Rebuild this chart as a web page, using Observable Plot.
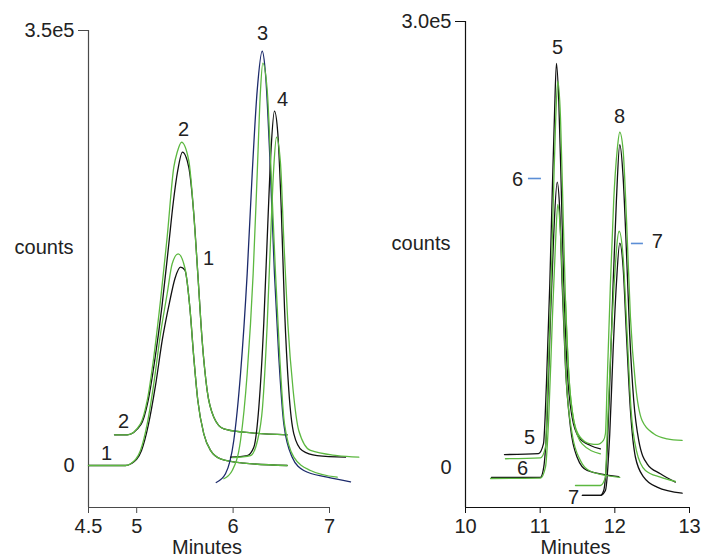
<!DOCTYPE html>
<html>
<head>
<meta charset="utf-8">
<script src="https://cdn.jsdelivr.net/npm/d3@7"></script>
<script src="https://cdn.jsdelivr.net/npm/@observablehq/plot@0.6"></script>
<style>
  html, body { margin: 0; padding: 0; background: #fff; }
  #wrap { display: flex; width: 704px; height: 559px; }
  svg { overflow: visible; }
</style>
</head>
<body>
<div id="wrap"></div>
<script>
// ---------- Left panel data: [minutes, counts] ----------
const leftXTicks = [4.5, 5, 6, 7];
const leftYTop = 350000;
const leftYTopLabel = "3.5e5";

const run1Black = [[4.5,0],[4.884,0],[4.946,1600],[5.050,12100],[5.122,33000],[5.195,64400],[5.268,102200],[5.340,131100],[5.397,150500],[5.454,159600],[5.500,157300],[5.551,127400],[5.592,87100],[5.634,52300],[5.696,25500],[5.766,12100],[5.869,5400],[6.111,1900],[6.561,0]];
const run1Green = [[4.5,0],[4.884,0],[4.936,1400],[5.039,12100],[5.109,33500],[5.177,65700],[5.247,106000],[5.316,138200],[5.368,162300],[5.430,170300],[5.500,158900],[5.551,127400],[5.592,87100],[5.634,52300],[5.696,25500],[5.766,12100],[5.869,5400],[6.111,1900],[6.561,0]];
const run2Black = [[4.770,24700],[4.901,24700],[5.045,33000],[5.117,51500],[5.190,86100],[5.262,128000],[5.330,176000],[5.380,212000],[5.425,237000],[5.475,252100],[5.540,240000],[5.592,202500],[5.634,154200],[5.679,100600],[5.731,60300],[5.800,38900],[5.904,29500],[6.111,26800],[6.561,24700]];
const run2Green = [[4.770,24700],[4.901,24700],[5.039,33550],[5.109,52300],[5.177,87100],[5.247,132800],[5.316,183700],[5.385,240000],[5.420,252000],[5.465,260100],[5.540,245400],[5.592,202500],[5.634,154200],[5.679,100600],[5.731,60300],[5.800,38900],[5.904,29500],[6.111,26800],[6.561,24700]];
const run3Blue = [[5.825,-13700],[5.921,-6700],[6.007,20100],[6.077,73800],[6.146,154200],[6.198,234700],[6.250,301700],[6.302,333300],[6.336,315200],[6.381,248100],[6.429,154200],[6.474,87100],[6.526,33500],[6.613,6700],[6.733,-4000],[6.976,-9400],[7.218,-13100]];
const run3Green = [[5.904,-10700],[5.991,-4000],[6.077,20100],[6.146,73800],[6.208,154200],[6.250,234700],[6.284,301700],[6.308,323700],[6.354,301700],[6.395,234700],[6.440,154200],[6.484,87100],[6.533,33500],[6.630,6700],[6.803,-4000],[7.080,-9400]];
const run4Black = [[5.973,6700],[6.146,8000],[6.215,14700],[6.267,46900],[6.318,114000],[6.360,194500],[6.395,256100],[6.429,285100],[6.464,266900],[6.499,207800],[6.533,127400],[6.578,60300],[6.630,25500],[6.717,12100],[6.872,8000],[7.166,6700]];
const run4Green = [[5.994,6400],[6.181,8000],[6.253,20100],[6.305,46700],[6.354,114000],[6.395,194500],[6.422,240000],[6.450,264100],[6.492,242700],[6.526,181000],[6.568,114000],[6.623,60300],[6.681,28200],[6.803,12100],[7.080,8000],[7.304,6700]];

const leftLabelText = ["3", "4", "2", "1", "2", "1"];
const leftLabelX = [6.305, 6.512, 5.485, 5.745, 4.863, 4.687];
const leftLabelY = [347600, 294500, 270300, 166600, 35400, 9700];

// ---------- Right panel data ----------
const rightXTicks = [10, 11, 12, 13];
const rightYTop = 300000;
const rightYTopLabel = "3.0e5";

const run5Black = [[10.522,8700],[10.977,9400],[11.044,15900],[11.084,56300],[11.129,123600],[11.165,190800],[11.191,235600],[11.218,271900],[11.249,246800],[11.281,190800],[11.316,123600],[11.361,67500],[11.428,33800],[11.517,20400],[11.673,14800],[11.807,12600]];
const run5Green = [[10.535,5900],[11.004,6500],[11.071,13500],[11.102,56300],[11.147,123600],[11.182,190800],[11.209,235600],[11.236,259800],[11.272,235600],[11.303,179600],[11.339,112300],[11.383,63000],[11.450,31600],[11.562,15900],[11.807,9200]];
const run8Green = [[11.339,112300],[11.383,63000],[11.450,31600],[11.539,20200],[11.673,15900],[11.767,15500],[11.847,18200],[11.874,22700],[11.897,56300],[11.941,123600],[11.985,179600],[12.031,213200],[12.066,225500],[12.111,213200],[12.155,168400],[12.209,101100],[12.276,56300],[12.365,31600],[12.521,22700],[12.700,19300],[12.901,18200]];
const run6Black = [[10.348,-6700],[11.004,-6700],[11.048,200],[11.094,33800],[11.138,101100],[11.182,157200],[11.228,191900],[11.262,172900],[11.294,123600],[11.339,67500],[11.406,27100],[11.495,6900],[11.629,-2000],[12.052,-6100]];
const run6Green = [[10.335,-7400],[11.004,-7200],[11.071,200],[11.115,33800],[11.161,96700],[11.205,150500],[11.236,176900],[11.272,157200],[11.308,112300],[11.348,60700],[11.428,22700],[11.539,4700],[11.673,-2500],[12.066,-6700]];
const run8Black = [[11.566,-18800],[11.807,-18800],[11.851,-15500],[11.897,11400],[11.932,56300],[11.977,123600],[12.021,179600],[12.066,217100],[12.111,195300],[12.155,146000],[12.199,89900],[12.253,45100],[12.320,18200],[12.432,2500],[12.610,-4200],[12.811,-9800]];
const run7Black = [[11.566,-18800],[11.807,-18800],[11.874,-15500],[11.932,22700],[11.977,78700],[12.021,123600],[12.066,150900],[12.111,134700],[12.155,89900],[12.209,38300],[12.276,6900],[12.387,-6500],[12.566,-13200],[12.901,-17300]];
const run7Green = [[11.473,-12100],[11.807,-12100],[11.874,-6500],[11.897,22700],[11.945,78700],[11.991,123600],[12.058,158900],[12.111,141400],[12.165,89900],[12.218,38300],[12.289,11400],[12.410,-2000],[12.610,-6500],[12.811,-9400]];

const rightLabelText = ["5", "8", "6", "7", "5", "6", "7"];
const rightLabelX = [11.232, 12.062, 10.696, 12.570, 10.857, 10.763, 11.446];
const rightLabelY = [282500, 236100, 193700, 152000, 20200, -700, -20200];
const rightDashX1 = [10.843, 12.222];
const rightDashX2 = [11.017, 12.383];
const rightDashY = [194400, 150700];

// ---------- drawing ----------
const FONT = "'Liberation Sans', Arial, Helvetica, sans-serif";
const GREEN = "#5cb840";
const BLACK = "#111111";
const BLUE = "#1c2a6b";
const DASH = "#5b8ed6";
const TEXT = "#222222";

function panel(o) {
  const xmin = o.xDomain[0], ymin = o.yDomain[0];
  const labels = o.labelText.map((t, i) => ({t, x: o.labelX[i], y: o.labelY[i]}));
  const marks = [
    Plot.ruleX([xmin], {stroke: o.axisColor, strokeWidth: 1.2}),
    Plot.ruleY([ymin], {stroke: o.axisColor, strokeWidth: 1.2}),
    Plot.axisX({ticks: o.xTicks, tickFormat: d => String(d), tickSize: 6, tickPadding: 5, stroke: o.axisColor, fill: TEXT, label: null}),
    Plot.axisY({ticks: [o.yTop], tickFormat: () => o.yTopLabel, tickSize: 10, tickPadding: 4, stroke: o.axisColor, fill: TEXT, label: null}),
    Plot.axisY({ticks: [0], tickFormat: () => "0", tickSize: 0, tickPadding: 14, fill: TEXT, label: null}),
    Plot.text(["counts"], {x: () => xmin, y: () => o.countsY, dx: -15, textAnchor: "end", fill: TEXT}),
    Plot.text(["Minutes"], {frameAnchor: "bottom", dy: 46, dx: -2, fill: TEXT})
  ];
  for (const tr of o.traces) {
    marks.push(Plot.line(tr.data, {x: d => d[0], y: d => d[1], stroke: tr.color, strokeWidth: 1.3, curve: "monotone-x"}));
  }
  if (o.dashes) {
    const ds = o.dashes.x1.map((v, i) => ({x1: v, x2: o.dashes.x2[i], y: o.dashes.y[i]}));
    marks.push(Plot.ruleY(ds, {x1: "x1", x2: "x2", y: "y", stroke: DASH, strokeWidth: 1.6}));
  }
  marks.push(Plot.text(labels, {x: "x", y: "y", text: "t", fill: TEXT}));
  return Plot.plot({
    width: o.width, height: 559,
    marginLeft: o.marginLeft, marginRight: o.marginRight, marginTop: o.marginTop, marginBottom: 52,
    x: {domain: o.xDomain}, y: {domain: o.yDomain},
    style: {fontFamily: FONT, fontSize: "20px", color: TEXT, background: "#fff", overflow: "visible"},
    marks
  });
}

const left = panel({
  width: 360, marginLeft: 88, marginRight: 31, marginTop: 30,
  xDomain: [4.5, 7], yDomain: [-33800, 350000],
  xTicks: leftXTicks, yTop: leftYTop, yTopLabel: leftYTopLabel, countsY: 175400,
  axisColor: "#4a4a4a",
  traces: [
    {data: run1Black, color: BLACK}, {data: run2Black, color: BLACK},
    {data: run1Green, color: GREEN}, {data: run2Green, color: GREEN},
    {data: run3Blue, color: BLUE}, {data: run4Black, color: BLACK},
    {data: run3Green, color: GREEN}, {data: run4Green, color: GREEN}
  ],
  labelText: leftLabelText, labelX: leftLabelX, labelY: leftLabelY
});

const right = panel({
  width: 344, marginLeft: 105, marginRight: 15, marginTop: 21,
  xDomain: [10, 13], yDomain: [-26900, 300000],
  xTicks: rightXTicks, yTop: rightYTop, yTopLabel: rightYTopLabel, countsY: 150700,
  axisColor: "#111",
  traces: [
    {data: run5Black, color: BLACK}, {data: run6Black, color: BLACK},
    {data: run8Black, color: BLACK}, {data: run7Black, color: BLACK},
    {data: run5Green, color: GREEN}, {data: run8Green, color: GREEN},
    {data: run6Green, color: GREEN}, {data: run7Green, color: GREEN}
  ],
  labelText: rightLabelText, labelX: rightLabelX, labelY: rightLabelY,
  dashes: {x1: rightDashX1, x2: rightDashX2, y: rightDashY}
});

document.getElementById("wrap").append(left, right);
</script>
</body>
</html>
